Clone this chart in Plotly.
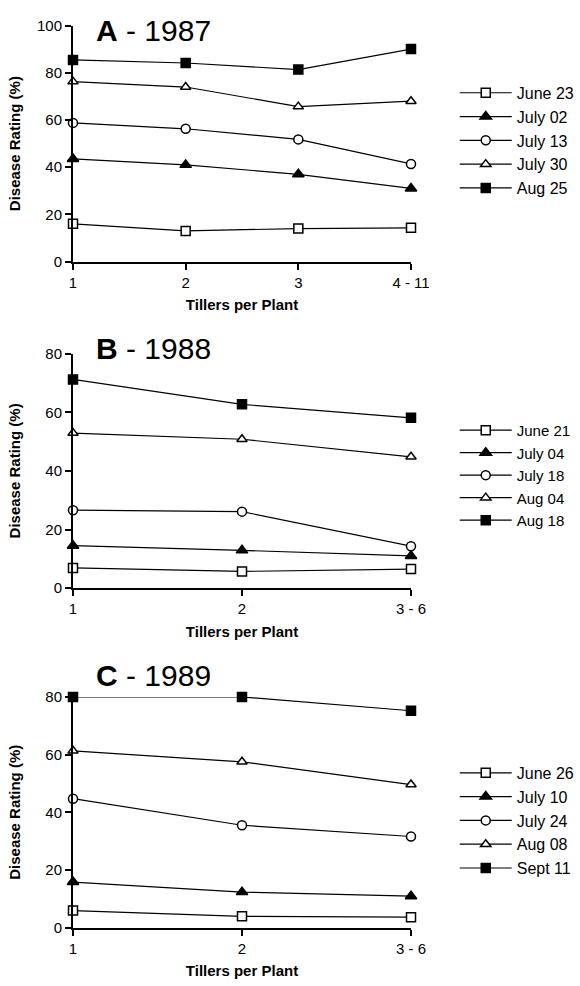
import plotly.graph_objects as go

# ---------------- data ----------------
A_cats = ["1", "2", "3", "4 - 11"]
A_names = ["June 23", "July 02", "July 13", "July 30", "Aug 25"]
A_june23 = [16, 13, 14, 14.3]
A_july02 = [43.5, 41, 37, 31]
A_july13 = [58.8, 56.3, 51.8, 41.4]
A_july30 = [76.3, 74, 65.7, 68]
A_aug25 = [85.5, 84.2, 81.4, 90.1]

B_cats = ["1", "2", "3 - 6"]
B_names = ["June 21", "July 04", "July 18", "Aug 04", "Aug 18"]
B_june21 = [6.9, 5.7, 6.5]
B_july04 = [14.5, 12.9, 11]
B_july18 = [26.6, 26.1, 14.3]
B_aug04 = [52.9, 50.8, 44.8]
B_aug18 = [71.2, 62.7, 58.1]

C_cats = ["1", "2", "3 - 6"]
C_names = ["June 26", "July 10", "July 24", "Aug 08", "Sept 11"]
C_june26 = [5.9, 3.9, 3.6]
C_july10 = [15.8, 12.3, 10.9]
C_july24 = [44.7, 35.5, 31.6]
C_aug08 = [61.3, 57.5, 49.6]
C_sept11 = [80, 80, 75.2]

panel_titles = ["<b>A</b> - 1987", "<b>B</b> - 1988", "<b>C</b> - 1989"]
y_title = "Disease Rating (%)"
x_title = "Tillers per Plant"

# ---------------- styling ----------------
W, H = 580, 986
ML, MR = 73, 167
PW = W - ML - MR
FONT = "Liberation Sans, Arial, sans-serif"

symbols = ["square", "triangle-up", "circle", "triangle-up", "square"]
fills = ["white", "black", "white", "white", "black"]
sizes = [9, 10, 9, 9, 9]

def py(pix):
    return 1 - pix / H

def px(pix):
    return (pix - ML) / PW

panels = [
    dict(cats=A_cats, names=A_names,
         series=[A_june23, A_july02, A_july13, A_july30, A_aug25],
         ydom=[py(257), py(17)], yrange=[0, 100], dtick=20,
         legend_y=py(68), legend_fs=16, title_y=py(22), ystand=13),
    dict(cats=B_cats, names=B_names,
         series=[B_june21, B_july04, B_july18, B_aug04, B_aug18],
         ydom=[py(589.3), py(350.7)], yrange=[0, 80], dtick=20,
         legend_y=py(412), legend_fs=15, title_y=py(345), ystand=21),
    dict(cats=C_cats, names=C_names,
         series=[C_june26, C_july10, C_july24, C_aug08, C_sept11],
         ydom=[py(934.7), py(700)], yrange=[0, 80], dtick=20,
         legend_y=py(760), legend_fs=16, title_y=py(678), ystand=21),
]

fig = go.Figure()
annotations = []
for i, p in enumerate(panels):
    suffix = "" if i == 0 else str(i + 1)
    xa = "x" + suffix
    ya = "y" + suffix
    lg = "legend" + suffix
    for j, (name, vals) in enumerate(zip(p["names"], p["series"])):
        fig.add_trace(go.Scatter(
            x=p["cats"], y=vals, name=name, mode="lines+markers",
            xaxis=xa, yaxis=ya, legend=lg, cliponaxis=False,
            line=dict(color="black", width=1.2),
            marker=dict(symbol=symbols[j], size=sizes[j], color=fills[j],
                        line=dict(color="black", width=1.5)),
        ))
    axis_common = dict(showgrid=False, zeroline=False, showline=True,
                       linecolor="black", linewidth=2, ticks="outside",
                       ticklen=6, tickwidth=1.5, tickcolor="black",
                       tickfont=dict(family=FONT, size=15, color="black"))
    fig.layout["xaxis" + suffix] = dict(
        axis_common, domain=[0, 1], anchor=ya, type="category",
        range=[0, len(p["cats"]) - 1],
        title=dict(text="<b>" + x_title + "</b>", standoff=10,
                   font=dict(family=FONT, size=15, color="black")))
    fig.layout["yaxis" + suffix] = dict(
        axis_common, domain=p["ydom"], anchor=xa, range=p["yrange"],
        dtick=p["dtick"], tick0=0,
        title=dict(text="<b>" + y_title + "</b>", standoff=p["ystand"],
                   font=dict(family=FONT, size=15, color="black")))
    fig.layout[lg] = dict(x=px(457), xanchor="left", y=p["legend_y"],
                          yanchor="top", bgcolor="rgba(0,0,0,0)",
                          itemwidth=52,
                          font=dict(family=FONT, size=p["legend_fs"],
                                    color="black"),
                          tracegroupgap=0)
    annotations.append(dict(text=panel_titles[i], xref="paper", yref="paper",
                            x=px(94), y=p["title_y"], xanchor="left",
                            yanchor="middle", showarrow=False,
                            font=dict(family=FONT, size=30, color="black")))

fig.update_layout(
    width=W, height=H, autosize=False,
    margin=dict(l=ML, r=MR, t=0, b=0),
    plot_bgcolor="white", paper_bgcolor="white",
    showlegend=True, annotations=annotations,
    font=dict(family=FONT, color="black"),
)

fig.write_html("out.html", config={"displayModeBar": False},
               post_script="document.body.style.margin='0';")
